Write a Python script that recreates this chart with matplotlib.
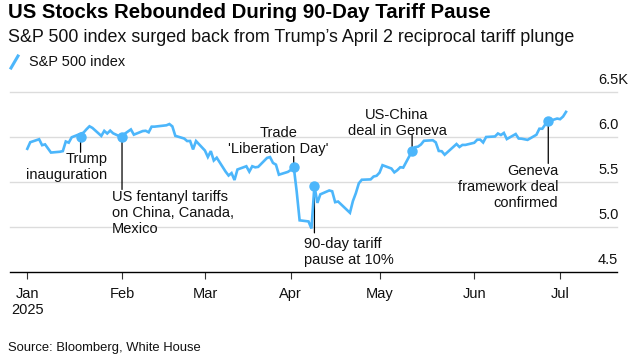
import matplotlib
matplotlib.use("Agg")
import matplotlib.pyplot as plt
import matplotlib.dates as mdates
from matplotlib.lines import Line2D
import pandas as pd

# ---------------- data ----------------
dates = [
    "2025-01-02", "2025-01-03", "2025-01-06", "2025-01-07", "2025-01-08", "2025-01-10",
    "2025-01-13", "2025-01-14", "2025-01-15", "2025-01-16", "2025-01-17", "2025-01-21",
    "2025-01-22", "2025-01-23", "2025-01-24", "2025-01-27", "2025-01-28", "2025-01-29",
    "2025-01-30", "2025-01-31",
    "2025-02-03", "2025-02-04", "2025-02-05", "2025-02-06", "2025-02-07", "2025-02-10",
    "2025-02-11", "2025-02-12", "2025-02-13", "2025-02-14", "2025-02-18", "2025-02-19",
    "2025-02-20", "2025-02-21", "2025-02-24", "2025-02-25", "2025-02-26", "2025-02-27",
    "2025-02-28",
    "2025-03-03", "2025-03-04", "2025-03-05", "2025-03-06", "2025-03-07", "2025-03-10",
    "2025-03-11", "2025-03-12", "2025-03-13", "2025-03-14", "2025-03-17", "2025-03-18",
    "2025-03-19", "2025-03-20", "2025-03-21", "2025-03-24", "2025-03-25", "2025-03-26",
    "2025-03-27", "2025-03-28", "2025-03-31",
    "2025-04-01", "2025-04-02", "2025-04-03", "2025-04-04", "2025-04-07", "2025-04-08",
    "2025-04-09", "2025-04-10", "2025-04-11", "2025-04-14", "2025-04-15", "2025-04-16",
    "2025-04-17", "2025-04-21", "2025-04-22", "2025-04-23", "2025-04-24", "2025-04-25",
    "2025-04-28", "2025-04-29", "2025-04-30",
    "2025-05-01", "2025-05-02", "2025-05-05", "2025-05-06", "2025-05-07", "2025-05-08",
    "2025-05-09", "2025-05-12", "2025-05-13", "2025-05-14", "2025-05-15", "2025-05-16",
    "2025-05-19", "2025-05-20", "2025-05-21", "2025-05-22", "2025-05-23", "2025-05-27",
    "2025-05-28", "2025-05-29", "2025-05-30",
    "2025-06-02", "2025-06-03", "2025-06-04", "2025-06-05", "2025-06-06", "2025-06-09",
    "2025-06-10", "2025-06-11", "2025-06-12", "2025-06-13", "2025-06-16", "2025-06-17",
    "2025-06-18", "2025-06-20", "2025-06-23", "2025-06-24", "2025-06-25", "2025-06-26",
    "2025-06-27", "2025-06-30",
    "2025-07-01", "2025-07-02", "2025-07-03",
]
values = [
    5869, 5942, 5975, 5909, 5918, 5827,
    5836, 5843, 5950, 5937, 5997, 6049,
    6086, 6119, 6101, 6012, 6068, 6039,
    6071, 6041,
    5995, 6038, 6061, 6084, 6026, 6066,
    6069, 6052, 6115, 6115, 6130, 6144,
    6118, 6013, 5983, 5955, 5956, 5862,
    5955,
    5850, 5778, 5843, 5739, 5770, 5615,
    5572, 5599, 5522, 5639, 5675, 5615,
    5675, 5663, 5668, 5768, 5777, 5712,
    5693, 5581, 5612,
    5633, 5671, 5397, 5074, 5062, 4983,
    5457, 5268, 5363, 5406, 5397, 5276,
    5283, 5158, 5288, 5376, 5485, 5525,
    5529, 5561, 5569,
    5604, 5687, 5650, 5607, 5631, 5664,
    5660, 5844, 5887, 5893, 5917, 5958,
    5964, 5940, 5845, 5842, 5803, 5922,
    5889, 5912, 5912,
    5936, 5970, 5971, 5939, 6000, 6006,
    6039, 6022, 6045, 5977, 6033, 5983,
    5981, 5968, 6025, 6092, 6092, 6141,
    6173, 6205,
    6198, 6227, 6279,
]

ann_dates = ["2025-01-20", "2025-02-03", "2025-04-02", "2025-04-09", "2025-05-12", "2025-06-27"]
ann_values = [5997, 5995, 5671, 5457, 5844, 6173]
ann_labels = [
    "Trump\ninauguration",
    "US fentanyl tariffs\non China, Canada,\nMexico",
    "Trade\n'Liberation Day'",
    "90-day tariff\npause at 10%",
    "US-China\ndeal in Geneva",
    "Geneva\nframework deal\nconfirmed",
]

x_tick_dates = ["2025-01-02", "2025-02-03", "2025-03-03", "2025-04-01",
                "2025-05-01", "2025-06-02", "2025-07-01"]
x_tick_labels = ["Jan\n2025", "Feb", "Mar", "Apr", "May", "Jun", "Jul"]
y_ticks = [4500, 5000, 5500, 6000, 6500]
y_tick_labels = ["4.5", "5.0", "5.5", "6.0", "6.5K"]

series_name = "S&P 500 index"
title = "US Stocks Rebounded During 90-Day Tariff Pause"
subtitle = "S&P 500 index surged back from Trump\u2019s April 2 reciprocal tariff plunge"
source = "Source: Bloomberg, White House"

# ---------------- style ----------------
FONT = ["Liberation Sans", "DejaVu Sans"]
plt.rcParams["font.family"] = FONT
BLUE = "#4cb6fb"
W, H = 634, 356

fig = plt.figure(figsize=(W / 100, H / 100), dpi=100)
fig.patch.set_facecolor("white")

ax_left, ax_right, ax_top, ax_bot = 10, 617, 92, 272
ax = fig.add_axes([ax_left / W, (H - ax_bot) / H, (ax_right - ax_left) / W, (ax_bot - ax_top) / H])

d = pd.to_datetime(dates)
ax.plot(d, values, color=BLUE, lw=1.9, zorder=3, solid_joinstyle="miter")

# x-limits derived from pixel layout (first tick at 27.3px, 2.96 px/day)
x0 = mdates.date2num(pd.Timestamp(x_tick_dates[0]))
ppd = 2.96
ax.set_xlim(x0 - (27.3 - ax_left) / ppd, x0 + (ax_right - 27.3) / ppd)
ax.set_ylim(y_ticks[0], y_ticks[-1])

for s in ["left", "right", "top"]:
    ax.spines[s].set_visible(False)
ax.spines["bottom"].set_color("black")
ax.spines["bottom"].set_linewidth(1.0)

for yv in y_ticks[1:]:
    ax.axhline(yv, color="#dcdcdc", lw=1.0, zorder=1, clip_on=False)

ax.set_yticks([])
ax.set_xticks(pd.to_datetime(x_tick_dates))
ax.set_xticklabels(x_tick_labels)
ax.tick_params(axis="x", direction="out", length=5, width=0.8, color="#333333",
               pad=6, labelsize=10.5, labelcolor="#111111")
for lbl in ax.get_xticklabels():
    lbl.set_linespacing(1.2)

# right-side y labels above gridlines
ytrans = ax.get_yaxis_transform()
for yv, lab in zip(y_ticks, y_tick_labels):
    ax.annotate(lab, xy=(1.0, yv), xycoords=ytrans, xytext=(-19, 8),
                textcoords="offset pixels", ha="left", va="baseline",
                fontsize=10.5, color="#111111", annotation_clip=False)

# annotations
ad = pd.to_datetime(ann_dates)
line_off = [-15, -52, 10, -47, 16, -42]
text_off = [(27, -15), (-10, -53), (-15, 11), (-10, -51), (-15, 13), (10, -43)]
text_ha = ["right", "left", "center", "left", "center", "right"]
text_va = ["top", "top", "bottom", "top", "bottom", "top"]
for di, vi, lab, lo, (dx, dy), ha, va in zip(ad, ann_values, ann_labels, line_off,
                                             text_off, text_ha, text_va):
    ax.annotate("", xy=(di, vi), xytext=(0, lo), textcoords="offset pixels",
                arrowprops=dict(arrowstyle="-", lw=0.9, color="black",
                                shrinkA=0, shrinkB=0), zorder=2)
    ax.annotate(lab, xy=(di, vi), xytext=(dx, dy), textcoords="offset pixels",
                ha=ha, va=va, multialignment=ha, fontsize=10.5, color="#111111",
                linespacing=1.18, zorder=5)
ax.plot(ad, ann_values, "o", color=BLUE, ms=6.5, zorder=4)

# titles
renderer = fig.canvas.get_renderer()


def fit(t, target):
    w = t.get_window_extent(renderer).width
    t.set_fontsize(t.get_fontsize() * target / w)


t1 = fig.text(8 / W, 1 - 17.5 / H, title, fontsize=14, fontweight="bold",
              va="baseline", ha="left", color="black")
fit(t1, 485)
t2 = fig.text(8 / W, 1 - 42.3 / H, subtitle, fontsize=12, va="baseline", ha="left",
              color="#111111")
fit(t2, 566)
t3 = fig.text(29 / W, 1 - 66.5 / H, series_name, fontsize=10, va="baseline", ha="left",
              color="#111111")
fit(t3, 96)
fig.add_artist(Line2D([11 / W, 18 / W], [1 - 68 / H, 1 - 56 / H], color=BLUE, lw=2.2,
                      transform=fig.transFigure))
t4 = fig.text(8 / W, 1 - 351.5 / H, source, fontsize=10, va="baseline", ha="left",
              color="#111111")
fit(t4, 194)

fig.savefig("out.png", dpi=100, facecolor="white")
